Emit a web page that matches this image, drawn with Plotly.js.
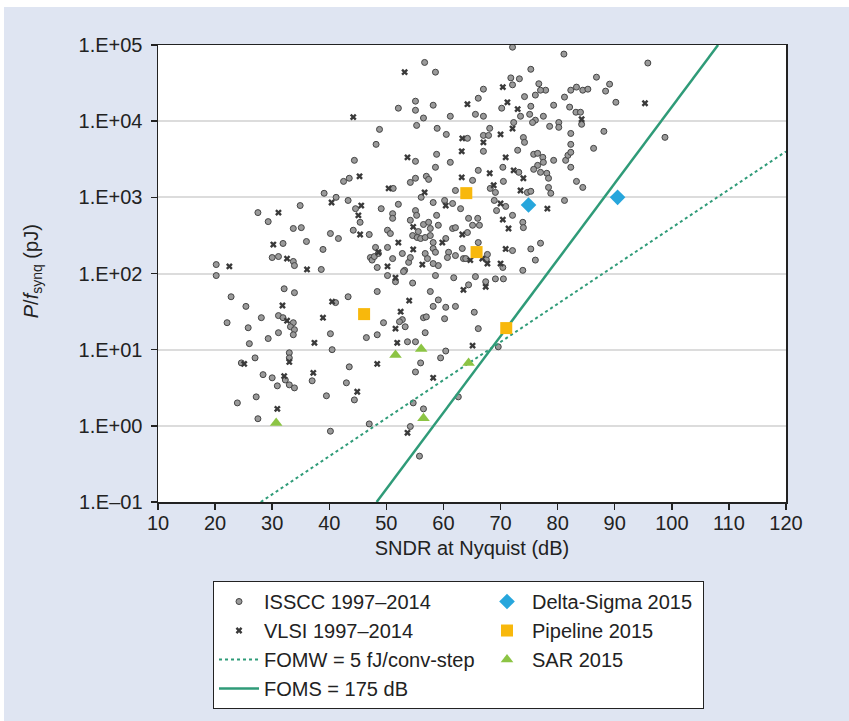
<!DOCTYPE html>
<html>
<head>
<meta charset="utf-8">
<script src="https://cdn.plot.ly/plotly-3.0.1.min.js"></script>
<style>
  html, body { margin: 0; padding: 0; background: #ffffff; }
  #chart { position: absolute; left: 4px; top: 7px; width: 845px; height: 714px; }
</style>
</head>
<body>
<div id="chart"></div>
<script>
// ---- Data ----
const isscc_x = [56.7,58.6,81.1,95.8,75.3,73.3,71.8,72.1,76.7,77.9,74.2,76.1,75.3,79.3,81.2,82.3,83.3,84.4,85.3,86.8,89.1,88.4,90.2,82.1,83.2,84.0,67.0,66.1,55.1,52.1,55.1,58.2,56.5,61.2,65.6,67.0,70.2,73.5,75.1,77.5,72.1,77.0,
84.2,76.1,75.6,72.3,78.6,80.2,80.2,82.3,88.1,98.8,74.0,74.2,82.3,86.3,73.0,75.8,76.5,77.4,77.5,76.5,79.3,81.4,81.8,82.3,70.4,73.2,75.8,77.0,82.3,78.1,78.4,70.5,69.1,83.3,84.4,74.7,75.3,78.4,78.8,58.9,60.5,64.2,67.0,67.9,68.1,48.8,55.3,48.2,67.0,58.8,55.1,61.2,58.6,44.4,66.1,42.5,43.5,57.0,57.4,54.2,55.1,51.2,62.1,65.1,68.2,39.1,41.2,43.3,56.1,
81.2,68.9,70.9,69.3,72.1,73.9,74.0,77.0,75.3,72.1,76.1,73.9,67.5,67.7,63.5,66.0,66.3,58.2,60.2,61.6,52.1,49.1,44.6,55.1,55.3,51.1,51.1,45.4,64.4,63.0,54.2,55.6,56.5,57.4,57.7,58.8,59.1,61.6,62.1,65.1,64.2,44.2,47.0,50.2,50.7,54.6,55.4,56.0,56.8,57.7,58.2,60.4,58.2,58.6,48.1,47.2,50.2,52.8,56.8,60.9,62.1,66.1,63.3,27.5,29.3,34.9,33.7,35.1,31.9,36.0,40.2,41.6,30.0,31.1,33.7,33.9,38.6,38.9,47.5,47.9,48.6,51.1,53.2,53.9,57.2,60.7,59.1,54.2,58.2,63.9,20.2,48.4,
20.2,58.6,50.2,70.4,53.0,61.8,65.6,67.4,69.1,70.5,54.6,51.6,64.4,57.7,59.1,58.2,60.4,62.1,65.4,60.2,52.8,56.5,57.0,53.3,56.8,66.1,53.7,60.4,69.6,59.5,56.0,55.1,62.6,54.7,56.5,54.2,55.8,48.4,43.3,41.1,32.1,33.9,22.8,25.4,28.1,31.1,31.9,33.7,33.2,33.9,33.7,22.1,25.8,40.2,31.1,29.3,26.0,40.5,33.0,33.0,27.0,24.6,28.4,30.0,30.9,32.3,33.0,33.9,37.0,27.2,23.9,27.5,39.5,43.5,43.0,44.4,40.2,47.0,46.5,48.4,49.5,52.3,55.1];
const isscc_y = [59000,44000,76000,58000,48000,36000,37000,30000,31000,25500,21000,22000,15700,16200,20700,25500,28000,25500,26300,37800,30600,24800,17700,15300,13100,13100,26300,20000,18300,14800,13900,16200,11000,11600,12300,11600,14800,11600,12300,11600,93600,25500,
9100,10300,9600,9600,8550,9600,8300,6900,7350,6130,6100,5270,4960,4400,4150,3670,3780,3350,2880,2630,3060,3060,3560,3900,2480,2130,2330,2130,2480,2070,1780,1620,1160,1620,1350,1160,1200,1350,1130,8050,6700,5950,6500,6500,8050,7800,8800,4960,4020,3670,2970,2880,2480,3060,2260,1620,1780,1890,1720,1570,1780,1310,1230,1670,1310,1130,1000,910,1000,
910,910,760,670,580,470,400,250,210,200,150,110,153,178,157,530,430,855,910,830,810,710,710,670,580,610,530,470,530,710,500,355,440,470,390,580,430,390,400,430,345,370,325,370,335,315,297,288,297,315,255,288,213,190,220,162,220,183,183,190,172,255,213,630,480,780,390,400,248,263,335,288,162,167,144,127,113,207,150,167,183,157,110,140,157,162,127,162,135,157,131,120,
94,94,94,120,106,88,91,78,85,85,75,78,71,58,45,37,36,37,31,25.5,24.8,26.3,27,20,16.7,18.9,12.7,9.6,10.9,7.8,6.7,5.1,2.4,2.0,1.67,0.98,0.40,58,49.5,41.5,63,56,49.5,37,26.3,28,26.3,22.6,20,18.3,15.7,22.6,19.4,16.2,16.7,14,12,10,9.1,7.8,7.8,6.7,4.7,4.27,3.35,4.0,3.45,3.15,3.9,2.4,2.0,1.24,2.48,5.95,3.67,2.19,0.85,1.06,14.4,15.7,22.6,23.3,12.7];

const vlsi_x = [53.2,70.4,71.2,95.3,84.2,64.2,44.2,73.0,72.1,70.0,70.9,72.3,74.0,68.8,73.5,63.3,67.0,63.2,53.7,68.1,45.3,50.4,56.7,63.2,40.4,70.0,78.2,70.4,71.4,70.9,70.0,64.7,60.4,45.6,45.1,54.7,63.3,45.4,52.1,59.8,48.6,54.7,66.8,31.1,30.2,32.6,36.1,50.2,56.3,67.7,22.5,51.6,67.4,63.5,54.0,52.5,65.1,58.2,53.7,40.5,31.8,32.6,38.9,37.4,33.0,25.1,32.1,37.2,30.9,44.9,48.4,51.6,51.9];
const vlsi_y = [44000,28000,17700,17200,10600,16700,11300,14400,8000,6700,3350,2260,1780,1440,1230,5950,5270,4020,3350,2070,1890,1310,1160,1830,855,830,710,510,390,210,135,150,780,780,580,410,325,325,255,255,190,207,157,630,240,157,113,124,131,135,124,88,67,61,44,31.5,11.3,4.27,0.81,42.7,38,24,26.3,12.3,6.9,6.5,4.5,4.96,1.67,2.8,6.5,18.9,12.3];

const ds_x = [74.9, 90.5];
const ds_y = [794, 1000];
const pipe_x = [64.0, 65.8, 46.1, 71.0];
const pipe_y = [1135, 191, 29.3, 19.2];
const sar_x = [30.7, 51.6, 56.1, 56.5, 64.4];
const sar_y = [1.09, 8.5, 10.2, 1.26, 6.7];

const fomw_x = [28.0, 120];
const fomw_y = [0.1, 4000];
const foms_x = [48.3, 108.1];
const foms_y = [0.1, 100000];

const xTicks = [10,20,30,40,50,60,70,80,90,100,110,120];
const yTickVals = [0.1, 1, 10, 100, 1000, 10000, 100000];
const yTickText = ['1.E\u201301','1.E+00','1.E+01','1.E+02','1.E+03','1.E+04','1.E+05'];
const yTitle = '<i>P</i>/<i>f</i><sub>synq</sub> (pJ)';
const xTitle = 'SNDR at Nyquist (dB)';

// ---- Styles ----
const lineColor = '#2f9b78';
const leftW = 213, rightW = 166;

const traces = [
  { x: isscc_x, y: isscc_y, type: 'scatter', mode: 'markers', name: 'ISSCC 1997\u20132014',
    marker: { symbol: 'circle', size: 6, color: '#9a9a9a', line: { color: '#444444', width: 1 } },
    legendrank: 1, legendwidth: leftW },
  { x: vlsi_x, y: vlsi_y, type: 'scatter', mode: 'markers', name: 'VLSI 1997\u20132014',
    marker: { symbol: 'x', size: 6, color: '#3a3a3a' },
    legendrank: 3, legendwidth: leftW },
  { x: fomw_x, y: fomw_y, type: 'scatter', mode: 'lines', name: 'FOMW = 5 fJ/conv-step',
    line: { color: lineColor, width: 2, dash: '3px,3px' },
    legendrank: 5, legendwidth: leftW },
  { x: foms_x, y: foms_y, type: 'scatter', mode: 'lines', name: 'FOMS = 175 dB',
    line: { color: lineColor, width: 2.5 },
    legendrank: 7, legendwidth: leftW },
  { x: ds_x, y: ds_y, type: 'scatter', mode: 'markers', name: 'Delta-Sigma 2015',
    marker: { symbol: 'diamond', size: 12, color: '#27a6dc' },
    legendrank: 2, legendwidth: rightW },
  { x: pipe_x, y: pipe_y, type: 'scatter', mode: 'markers', name: 'Pipeline 2015',
    marker: { symbol: 'square', size: 12, color: '#f8b80c' },
    legendrank: 4, legendwidth: rightW },
  { x: sar_x, y: sar_y, type: 'scatter', mode: 'markers', name: 'SAR 2015',
    marker: { symbol: 'triangle-up', size: 11, color: '#8cc444' },
    legendrank: 6, legendwidth: rightW }
];

const layout = {
  width: 845, height: 714,
  margin: { l: 154, r: 63, t: 38, b: 219 },
  paper_bgcolor: '#dfe5f2',
  plot_bgcolor: '#ffffff',
  font: { family: 'Liberation Sans, Arial, sans-serif', size: 20, color: '#222222' },
  showlegend: true,
  legend: {
    orientation: 'h', x: 0.0876, y: -0.1729, xanchor: 'left', yanchor: 'top',
    bgcolor: '#ffffff', bordercolor: '#222222', borderwidth: 1,
    itemwidth: 40, entrywidthmode: 'pixels',
    font: { size: 20, color: '#222222' }
  },
  xaxis: {
    type: 'linear', range: [10, 120], tickmode: 'array', tickvals: xTicks,
    ticks: 'outside', ticklen: 6, tickwidth: 1.5, tickcolor: '#222',
    ticklabelstandoff: -4,
    showgrid: false, zeroline: false, automargin: true,
    showline: true, mirror: true, linecolor: '#222', linewidth: 1.5,
    tickfont: { size: 20, color: '#222' },
    title: { text: xTitle, standoff: 8, font: { size: 20, color: '#222' } }
  },
  yaxis: {
    type: 'log', range: [-1, 5], tickmode: 'array', tickvals: yTickVals, ticktext: yTickText,
    ticks: 'outside', ticklen: 6, tickwidth: 1.5, tickcolor: '#222',
    ticklabelstandoff: 4,
    showgrid: true, gridcolor: '#dcdcdc', gridwidth: 2, zeroline: false,
    showline: true, mirror: true, linecolor: '#222', linewidth: 1.5,
    tickfont: { size: 20, color: '#222' }
  },
  annotations: [
    { text: yTitle, xref: 'paper', yref: 'paper', x: -0.2006, y: 0.505,
      xanchor: 'center', yanchor: 'middle', textangle: -90, showarrow: false,
      font: { size: 20, color: '#222' } }
  ]
};

Plotly.newPlot('chart', traces, layout, { displayModeBar: false, staticPlot: true });
</script>
</body>
</html>
